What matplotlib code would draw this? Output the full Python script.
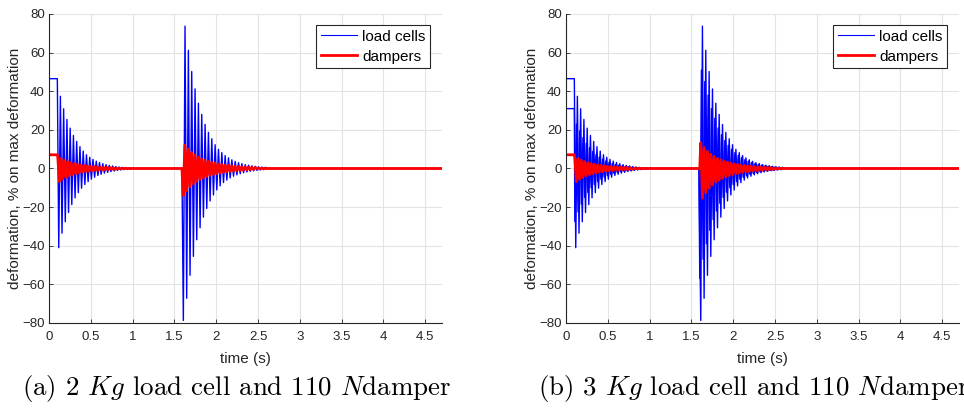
import numpy as np
import matplotlib
matplotlib.use('Agg')
from matplotlib import pyplot as plt

plt.rcParams['font.family'] = ['Liberation Sans', 'DejaVu Sans']
plt.rcParams['mathtext.fontset'] = 'cm'

# ---- data (percent of max deformation) ----
t_end = 4.7
period = 0.039          # oscillation period of the load cells (s)
period2 = 0.040

# (a) 2 Kg load cell
cell_a_step = 46.5
cell_a_b1_neg = [-41, -33.5, -27.6, -22.8, -18.7, -15.2, -12.5, -10.2, -8.3, -6.8, -5.5, -4.5,
                 -3.6, -3.0, -2.4, -2.0, -1.6, -1.3, -1.0, -0.8, -0.6, -0.5, -0.4]
cell_a_b1_pos = [37.4, 30.9, 25.4, 20.9, 17.1, 14.0, 11.3, 9.0, 7.1, 5.8, 4.7, 3.8,
                 3.1, 2.5, 2.0, 1.6, 1.3, 1.0, 0.8, 0.6, 0.5, 0.4, 0.3]
cell_a_b2_neg = [-78.7, -67.2, -55.3, -45.5, -36.9, -30.7, -25.2, -20.7, -16.8, -13.7, -11.1, -9.0,
                 -7.3, -6.0, -4.9, -4.0, -3.3, -2.7, -2.2, -1.8, -1.5, -1.2, -1.0, -0.8, -0.65]
cell_a_b2_pos = [73.7, 61.2, 50.2, 41.2, 33.8, 28.0, 22.8, 18.7, 15.4, 12.3, 9.9, 8.2,
                 6.7, 5.5, 4.5, 3.7, 3.0, 2.5, 2.0, 1.7, 1.4, 1.1, 0.9, 0.75, 0.6]

damp_a_step = 7.1
damp_a_b1_pos = [6.0, 5.2, 4.3, 3.6, 3.0, 2.6, 2.2, 1.9, 1.6, 1.4, 1.2, 1.05, 0.9, 0.8, 0.7, 0.6, 0.5, 0.4]
damp_a_b1_neg = [-6.8, -5.6, -4.6, -3.8, -3.2, -2.7, -2.3, -1.9, -1.6, -1.4, -1.2, -1.05, -0.9, -0.8, -0.7, -0.6, -0.5, -0.4]
damp_a_b2_pos = [12.1, 10.0, 8.3, 7.0, 5.9, 5.0, 4.3, 3.7, 3.2, 2.8, 2.4, 2.1, 1.8, 1.6, 1.4, 1.2, 1.0, 0.9, 0.8, 0.7, 0.6, 0.5]
damp_a_b2_neg = [-14.0, -11.5, -9.5, -8.0, -6.7, -5.7, -4.9, -4.2, -3.6, -3.1, -2.7, -2.3, -2.0, -1.7, -1.5, -1.3, -1.1, -1.0, -0.85, -0.7, -0.6, -0.5]

# (b) 3 Kg load cell: two load cell traces
cell_b2_step = 31.0
cell_b2_b1_neg = [-27.5, -22.5, -18.5, -15.0, -12.5, -10.0, -8.3, -6.8, -5.5, -4.5, -3.7, -3.0,
                  -2.5, -2.0, -1.6, -1.3, -1.1, -0.9, -0.7, -0.5]
cell_b2_b1_pos = [23.0, 19.5, 16.0, 13.0, 10.8, 8.8, 7.2, 5.9, 4.8, 3.9, 3.2, 2.6,
                  2.1, 1.7, 1.4, 1.1, 0.9, 0.7, 0.6, 0.5]
cell_b2_b2_neg = [-57, -47, -39, -32, -26.5, -22, -18, -15, -12.3, -10, -8.3, -6.8,
                  -5.6, -4.6, -3.8, -3.1, -2.6, -2.1, -1.7, -1.4, -1.2, -1.0, -0.8, -0.65, -0.5]
cell_b2_b2_pos = [51, 45, 38, 31, 26, 21, 17.5, 14.5, 12, 10, 8.2, 6.8,
                  5.6, 4.6, 3.8, 3.1, 2.6, 2.1, 1.7, 1.4, 1.2, 1.0, 0.8, 0.65, 0.5]

damp_b_b2_pos = [13.3, 10.8, 8.9, 7.4, 6.2, 5.2, 4.5, 3.8, 3.3, 2.8, 2.4, 2.1, 1.8, 1.6, 1.4, 1.2, 1.0, 0.9, 0.8, 0.7, 0.6, 0.5]
damp_b_b2_neg = [-15.4, -12.5, -10.2, -8.5, -7.1, -6.0, -5.1, -4.3, -3.7, -3.2, -2.7, -2.3, -2.0, -1.7, -1.5, -1.3, -1.1, -1.0, -0.85, -0.7, -0.6, -0.5]

captions = [r'(a) 2 $Kg$ load cell and 110 $N$damper', r'(b) 3 $Kg$ load cell and 110 $N$damper']


def burst(t0, dt, first, second):
    # alternate two peak lists, one peak every half period
    t, y = [], []
    for i in range(max(len(first), len(second))):
        if i < len(first):
            t.append(t0 + i * dt)
            y.append(first[i])
        if i < len(second):
            t.append(t0 + i * dt + dt / 2)
            y.append(second[i])
    return t, y


def series(step, t_step, b1, b2_start, b2):
    t = [0, t_step]
    y = [step, step]
    t += b1[0]; y += b1[1]
    t += [b1[0][-1] + 0.03, b2_start]; y += [0, 0]
    t += b2[0]; y += b2[1]
    t += [b2[0][-1] + 0.03, t_end]; y += [0, 0]
    return np.array(t), np.array(y)


def style(ax):
    ax.set_xlim(0, t_end)
    ax.set_ylim(-80, 80)
    ax.set_xticks(np.arange(0, 4.6, 0.5))
    ax.set_xticklabels(['0', '0.5', '1', '1.5', '2', '2.5', '3', '3.5', '4', '4.5'])
    ax.set_yticks(np.arange(-80, 81, 20))
    ax.grid(True, color='#e3e3e3', lw=0.8)
    ax.set_axisbelow(True)
    for s in ['top', 'right']:
        ax.spines[s].set_visible(False)
    for s in ['left', 'bottom']:
        ax.spines[s].set_color('#262626')
        ax.spines[s].set_linewidth(0.8)
    ax.tick_params(direction='in', length=3, width=0.6, colors='#262626', labelsize=9.5)
    ax.tick_params(axis='x', pad=6)
    ax.tick_params(axis='y', pad=3)
    ax.set_xlabel('time (s)', fontsize=11, color='#262626')
    ax.set_ylabel('deformation, % on max deformation', fontsize=11, color='#262626')
    ax.xaxis.set_label_coords(0.5, -0.094)
    ax.yaxis.set_label_coords(-0.069, 0.5)


fig = plt.figure(figsize=(9.64, 4.15), dpi=100)
ax1 = fig.add_axes([0.0508, 0.2217, 0.4077, 0.7446])
ax2 = fig.add_axes([0.5871, 0.2217, 0.4077, 0.7446])

# (a)
t, y = series(cell_a_step, 0.100, burst(0.117, period, cell_a_b1_neg, cell_a_b1_pos),
              1.59, burst(1.607, period2, cell_a_b2_neg, cell_a_b2_pos))
ax1.plot(t, y, color='#0000ff', lw=1.0, label='load cells')
t, y = series(damp_a_step, 0.100, burst(0.105, period, damp_a_b1_pos, damp_a_b1_neg),
              1.59, burst(1.605, period2, damp_a_b2_neg, damp_a_b2_pos))
ax1.plot(t, y, color='#ff0000', lw=2.0, label='dampers')

# (b)
t, y = series(cell_a_step, 0.100, burst(0.117, period, cell_a_b1_neg, cell_a_b1_pos),
              1.59, burst(1.612, period2, cell_a_b2_neg, cell_a_b2_pos))
ax2.plot(t, y, color='#0000ff', lw=1.0, label='load cells')
t, y = series(cell_b2_step, 0.100, burst(0.106, period, cell_b2_b1_neg, cell_b2_b1_pos),
              1.59, burst(1.600, period2, cell_b2_b2_neg, cell_b2_b2_pos))
ax2.plot(t, y, color='#0000ff', lw=1.0, label='_nolegend_')
t, y = series(damp_a_step, 0.100, burst(0.105, period, damp_a_b1_pos, damp_a_b1_neg),
              1.60, burst(1.612, period2, damp_b_b2_pos, damp_b_b2_neg))
ax2.plot(t, y, color='#ff0000', lw=2.0, label='dampers')

for ax in (ax1, ax2):
    style(ax)
    leg = ax.legend(loc='upper right', bbox_to_anchor=(0.9695, 0.964), fontsize=11, fancybox=False,
                    framealpha=1, edgecolor='#262626', borderpad=0.3, labelspacing=0.4,
                    handlelength=2.4, handletextpad=0.3, borderaxespad=0)
    leg.get_frame().set_linewidth(0.8)
    leg.get_lines()[0].set_linewidth(0.8)

fig.text(0.2453, 0.064, captions[0], fontsize=19.4, family='cmr10', ha='center', va='center')
fig.text(0.558, 0.064, captions[1], fontsize=19.4, family='cmr10', ha='left', va='center')

fig.savefig('out.png', dpi=100)
